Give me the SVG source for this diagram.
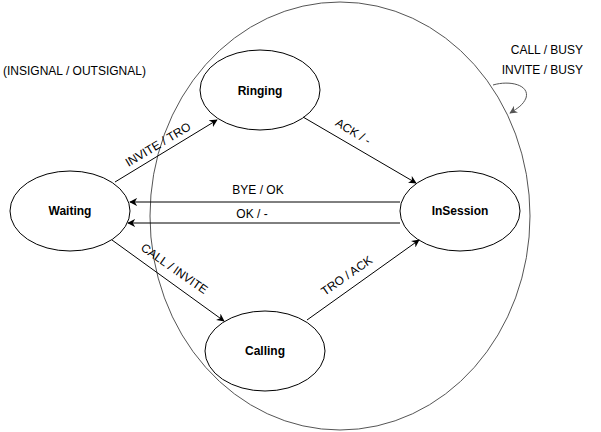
<svg xmlns="http://www.w3.org/2000/svg" width="601" height="432" viewBox="0 0 601 432">
<defs>
<marker id="ah" viewBox="0 0 10 10" refX="9" refY="5" markerWidth="8" markerHeight="8" markerUnits="userSpaceOnUse" orient="auto"><path d="M0,0 L10,5 L0,10 L3,5 Z" fill="#000"/></marker>
<marker id="ahg" viewBox="0 0 10 10" refX="9" refY="5" markerWidth="8" markerHeight="8" markerUnits="userSpaceOnUse" orient="auto"><path d="M0,0 L10,5 L0,10 L3,5 Z" fill="#555"/></marker>
<style>
.st{fill:#fff;stroke:#000;stroke-width:1}
.nl{font-family:"Liberation Sans",Arial,sans-serif;font-size:12px;font-weight:bold;text-anchor:middle;fill:#000}
.el{font-family:"Liberation Sans",Arial,sans-serif;font-size:12px;text-anchor:middle;fill:#000}
.ed{fill:none;stroke:#000;stroke-width:1;marker-end:url(#ah)}
</style>
</defs>
<rect width="601" height="432" fill="#fff"/>
<g id="super">
<ellipse cx="340" cy="216" rx="190" ry="214" fill="none" stroke="#555" stroke-width="1"/>
</g>
<g id="Waiting"><ellipse class="st" cx="70" cy="211" rx="60" ry="40"/><text class="nl" x="70" y="215">Waiting</text></g>
<g id="Ringing"><ellipse class="st" cx="260" cy="90" rx="60" ry="40"/><text class="nl" x="260" y="95">Ringing</text></g>
<g id="InSession"><ellipse class="st" cx="460" cy="211" rx="60" ry="40"/><text class="nl" x="460" y="215">InSession</text></g>
<g id="Calling"><ellipse class="st" cx="265" cy="351" rx="60" ry="40"/><text class="nl" x="265" y="355">Calling</text></g>
<g id="connectors">
<path class="ed" d="M115,182 L217,120"/>
<path class="ed" d="M303,117 L416,183"/>
<path class="ed" d="M400,202 L130,202"/>
<path class="ed" d="M400,223 L128,223"/>
<path class="ed" d="M112,240 L224,321"/>
<path class="ed" d="M307,320 L419,240"/>
<path d="M493,85 C510,80 530,85 526,98 C523,105 518,108 510,113" fill="none" stroke="#555" stroke-width="1" marker-end="url(#ahg)"/>
</g>
<g id="labels">
<text class="el" x="3" y="75" text-anchor="start" style="text-anchor:start">(INSIGNAL / OUTSIGNAL)</text>
<text class="el" x="583" y="54" style="text-anchor:end">CALL / BUSY</text>
<text class="el" x="583" y="74" style="text-anchor:end">INVITE / BUSY</text>
<text class="el" transform="translate(160,148) rotate(-31)">INVITE / TRO</text>
<text class="el" transform="translate(351,135) rotate(31)">ACK / -</text>
<text class="el" x="258" y="194">BYE / OK</text>
<text class="el" x="252" y="218">OK / -</text>
<text class="el" transform="translate(172,272) rotate(35)">CALL / INVITE</text>
<text class="el" transform="translate(349,279) rotate(-35)">TRO / ACK</text>
</g>
</svg>
